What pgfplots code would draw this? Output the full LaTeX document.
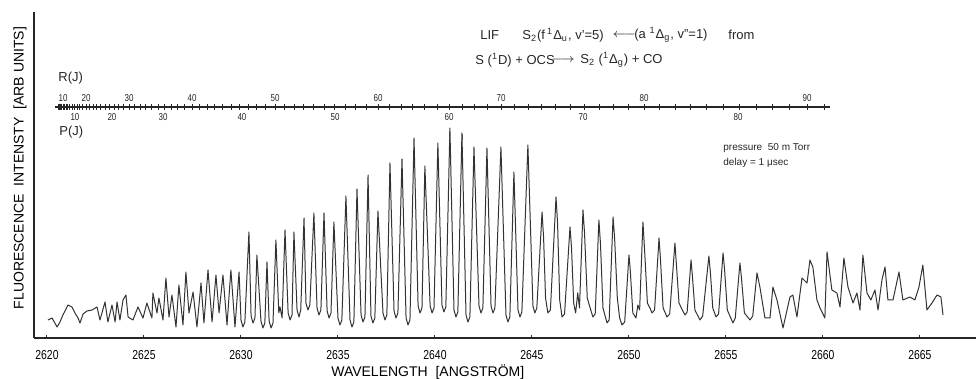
\documentclass[border=0pt]{standalone}
\usepackage{pgfplots}
\pgfplotsset{compat=1.18}
\usepackage{fontspec}
\setmainfont{Liberation Sans}
\newfontfamily\cond[FakeStretch=0.8]{Liberation Sans}
\begin{document}
\begin{tikzpicture}
\begin{axis}[
 at={(0pt,0pt)}, anchor=south west,
 scale only axis, width=471pt, height=163pt,
 xmin=2619.33, xmax=2667.89, ymin=0, ymax=326,
 axis x line*=bottom, axis y line*=left,
 axis line style={-, line width=1pt, black!85},
 x axis line style={-}, y axis line style={-},
 xtick={2620,2625,2630,2635,2640,2645,2650,2655,2660,2665},
 xticklabels={2620,2625,2630,2635,2640,2645,2650,2655,2660,2665},
 ytick=\empty,
 tick align=inside, major tick length=1.5pt,
 tick style={black!85, line width=0.5pt},
 xticklabel style={font=\cond\fontsize{6.5}{7}\selectfont, anchor=center, yshift=-8.5pt},
 xlabel={WAVELENGTH\ \ [ANGSTRÖM]},
 xlabel style={at={(axis description cs:0.418,-0.104)}, anchor=center, font=\fontsize{7}{8}\selectfont},
 ylabel={FLUORESCENCE\ \ INTENSTY\ \ [ARB UNITS]},
 ylabel style={at={(axis description cs:-0.0149,0.521)}, anchor=center, font=\fontsize{7}{8}\selectfont},
 clip=false,
]
\addplot[black!80, line width=0.5pt, line join=round] coordinates {
(2620.05,18)(2620.26,20)(2620.52,11)(2620.67,16)(2620.82,23)(2620.98,29)(2621.08,33)(2621.29,31)(2621.44,25)(2621.60,20)(2621.70,15)(2621.86,24)(2622.06,27)(2622.32,28)(2622.58,31)(2622.73,18)(2622.99,36)(2623.14,16)(2623.35,33)(2623.51,16)(2623.61,36)(2623.76,18)(2623.92,38)(2624.07,43)(2624.18,21)(2624.43,18)(2624.69,31)(2624.95,20)(2625.15,35)(2625.41,20)(2625.46,45)(2625.67,25)(2625.77,40)(2625.98,18)(2626.13,60)(2626.29,21)(2626.44,43)(2626.65,11)(2626.80,53)(2627.01,13)(2627.16,66)(2627.32,25)(2627.53,46)(2627.73,11)(2627.94,55)(2628.09,15)(2628.30,68)(2628.51,16)(2628.71,63)(2628.87,25)(2629.07,63)(2629.28,13)(2629.48,68)(2629.69,11)(2629.90,66)
(2630.00,18)(2630.10,11)(2630.20,16)(2630.41,106)
(2630.52,22)(2630.62,15)(2630.72,20)(2630.82,83)
(2631.03,17)(2631.13,10)(2631.23,15)(2631.34,76)
(2631.45,17)(2631.55,10)(2631.65,15)(2631.80,98)
(2631.95,25)(2632.01,31)(2632.12,20)(2632.27,108)
(2632.43,25)(2632.53,18)(2632.63,23)(2632.73,106)
(2632.89,28)(2632.99,21)(2633.08,28)(2633.25,120)
(2633.35,35)(2633.45,28)(2633.55,33)(2633.76,125)
(2633.92,30)(2634.02,23)(2634.12,28)(2634.28,125)
(2634.44,27)(2634.54,20)(2634.64,25)(2634.79,116)
(2635.00,20)(2635.10,13)(2635.20,18)(2635.41,142)
(2635.62,18)(2635.72,11)(2635.82,16)(2635.98,149)
(2636.19,23)(2636.29,16)(2636.39,21)(2636.55,163)
(2636.70,22)(2636.80,15)(2636.90,20)(2637.06,127)
(2637.32,25)(2637.42,18)(2637.52,23)(2637.68,175)
(2637.89,27)(2637.99,20)(2638.09,25)(2638.30,179)
(2638.51,20)(2638.61,13)(2638.71,18)(2638.92,200)
(2639.13,32)(2639.23,25)(2639.33,30)(2639.48,172)
(2639.75,32)(2639.85,25)(2639.95,30)(2640.15,195)
(2640.36,33)(2640.46,26)(2640.56,31)(2640.77,210)
(2640.98,28)(2641.08,21)(2641.18,26)(2641.39,205)
(2641.60,23)(2641.70,16)(2641.80,21)(2642.01,191)
(2642.27,32)(2642.37,25)(2642.47,30)(2642.68,190)
(2642.89,32)(2642.99,25)(2643.09,30)(2643.40,191)
(2643.66,23)(2643.76,16)(2643.86,21)(2644.07,166)
(2644.28,28)(2644.38,21)(2644.48,26)(2644.79,193)
(2645.05,32)(2645.15,25)(2645.25,30)(2645.52,126)(2645.60,100)(2645.70,40)(2645.82,25)(2645.95,28)(2646.24,141)(2646.32,115)(2646.43,38)(2646.55,21)(2646.68,24)(2646.96,111)(2647.04,90)(2647.15,35)(2647.25,25)(2647.36,45)(2647.45,30)(2647.63,128)(2647.71,105)(2647.85,40)(2648.00,30)(2648.14,21)(2648.26,24)(2648.45,118)(2648.53,95)(2648.66,30)(2648.87,15)(2648.98,18)(2649.18,121)(2649.26,100)(2649.40,40)(2649.52,20)(2649.64,13)(2649.78,16)(2650.00,83)(2650.06,70)(2650.20,25)(2650.36,20)(2650.46,33)(2650.55,28)(2650.72,116)(2650.80,90)(2650.95,35)(2651.08,30)(2651.19,25)(2651.32,28)(2651.55,100)(2651.62,80)(2651.76,30)(2651.96,21)(2652.10,24)(2652.37,95)(2652.44,75)(2652.58,35)(2652.75,28)(2652.89,23)(2653.00,26)(2653.20,78)(2653.27,62)(2653.40,28)(2653.66,18)(2653.80,22)(2654.12,82)(2654.20,65)(2654.32,30)(2654.49,21)(2654.62,24)(2654.85,85)(2654.93,68)(2655.07,28)(2655.36,15)(2655.48,20)(2655.72,75)(2655.80,60)(2655.95,25)(2656.24,18)(2656.38,22)(2656.60,65)(2656.75,51)(2657.01,20)(2657.27,20)(2657.42,51)(2657.63,38)(2657.94,10)(2658.30,41)(2658.45,43)(2658.66,21)(2658.92,60)(2659.18,55)(2659.33,78)(2659.48,71)(2659.69,38)(2659.85,30)(2660.10,20)(2660.21,86)(2660.46,48)(2660.72,45)(2660.88,31)(2661.08,80)(2661.29,51)(2661.55,35)(2661.75,45)(2661.91,28)(2662.06,83)(2662.27,45)(2662.47,38)(2662.68,48)(2662.84,28)(2663.04,58)(2663.20,71)(2663.35,38)(2663.61,38)(2663.92,66)(2664.12,38)(2664.48,41)(2664.74,38)(2664.95,51)(2665.15,73)(2665.36,28)(2665.62,35)(2665.88,43)(2666.08,41)(2666.19,23)
};
\end{axis}
% overlay axis in pixel units for the rotational-line ladder and annotations
\begin{axis}[
 at={(0pt,0pt)}, anchor=south west,
 scale only axis, width=471pt, height=163pt,
 xmin=34, xmax=976, ymin=0, ymax=326,
 hide axis, clip=false,
]
\addplot[black!85, line width=0.6pt] coordinates {(55,231) (830,231)};
\addplot[only marks, mark=|, mark size=1.5pt, mark options={black!85, line width=0.4pt}] coordinates {
(60,231)(59.4,231)(59,231)(58.8,231)(59,231)(59.4,231)(60,231)(60.8,231)(61.8,231)(63,231)(64.4,231)(66,231)(67.8,231)(69.8,231)(72,231)(74.4,231)(77,231)(79.8,231)(82.8,231)(86,231)(89.4,231)(93,231)(96.8,231)(100.8,231)(105,231)(109.4,231)(114,231)(118.8,231)(123.8,231)(129,231)(134.4,231)(140,231)(145.8,231)(151.8,231)(158,231)(164.4,231)(171,231)(177.8,231)(184.8,231)(192,231)(199.4,231)(207,231)(214.8,231)(222.8,231)(231,231)(239.4,231)(248,231)(256.8,231)(265.8,231)(275,231)(284.4,231)(294,231)(303.8,231)(313.8,231)(324,231)(334.4,231)(345,231)(355.8,231)(366.8,231)(378,231)(389.4,231)(401,231)(412.8,231)(424.8,231)(437,231)(449.4,231)(462,231)(474.8,231)(487.8,231)(501,231)(514.4,231)(528,231)(541.8,231)(555.8,231)(570,231)(584.4,231)(599,231)(613.8,231)(628.8,231)(644,231)(659.4,231)(675,231)(690.8,231)(706.8,231)(723,231)(739.4,231)(756,231)(772.8,231)(789.8,231)(807,231)(824.4,231)
};
\addplot[black!70, line width=0.4pt] coordinates {(449,207) (449,198)};
\addplot[black!70, line width=0.4pt] coordinates {(462,204) (462,198)};
\begin{scope}[every node/.style={font=\cond\fontsize{5}{6}\selectfont, inner sep=0pt, text=black!85}]
\node at (axis cs:63,240) {10};
\node at (axis cs:86,240) {20};
\node at (axis cs:129,240) {30};
\node at (axis cs:192,240) {40};
\node at (axis cs:275,240) {50};
\node at (axis cs:378,240) {60};
\node at (axis cs:501,240) {70};
\node at (axis cs:644,240) {80};
\node at (axis cs:807,240) {90};
\node at (axis cs:75,221) {10};
\node at (axis cs:112,221) {20};
\node at (axis cs:163,221) {30};
\node at (axis cs:242,221) {40};
\node at (axis cs:335,221) {50};
\node at (axis cs:449,221) {60};
\node at (axis cs:583,221) {70};
\node at (axis cs:738,221) {80};
\end{scope}
\begin{scope}[every node/.style={font=\fontsize{6.5}{7}\selectfont, inner sep=0pt, anchor=west, text=black!85}]
\node at (axis cs:58,260) {R(J)};
\node at (axis cs:59,206) {P(J)};
\node at (axis cs:480,303) {LIF};
\node at (axis cs:522,303) {S\textsubscript{2}(f\,\textsuperscript{1}Δ\textsubscript{u}, v'=5)};
\node at (axis cs:612,303) {$\longleftarrow$};
\node at (axis cs:634,303) {(a \textsuperscript{1}Δ\textsubscript{g}, v''=1)};
\node at (axis cs:728,303) {from};
\node at (axis cs:475,278) {S (\textsuperscript{1}D) + OCS};
\node at (axis cs:551,278) {$\longrightarrow$};
\node at (axis cs:580,278) {S\textsubscript{2} (\textsuperscript{1}Δ\textsubscript{g}) + CO};
\end{scope}
\begin{scope}[every node/.style={font=\fontsize{5}{6}\selectfont, inner sep=0pt, anchor=west, text=black!85}]
\node at (axis cs:723,190) {pressure\ \ 50 m Torr};
\node at (axis cs:723,175) {delay = 1 μsec};
\end{scope}
\end{axis}
\pgfresetboundingbox
\path[use as bounding box] (-17pt,-20.5pt) rectangle (471pt,169pt);
\end{tikzpicture}
\end{document}
